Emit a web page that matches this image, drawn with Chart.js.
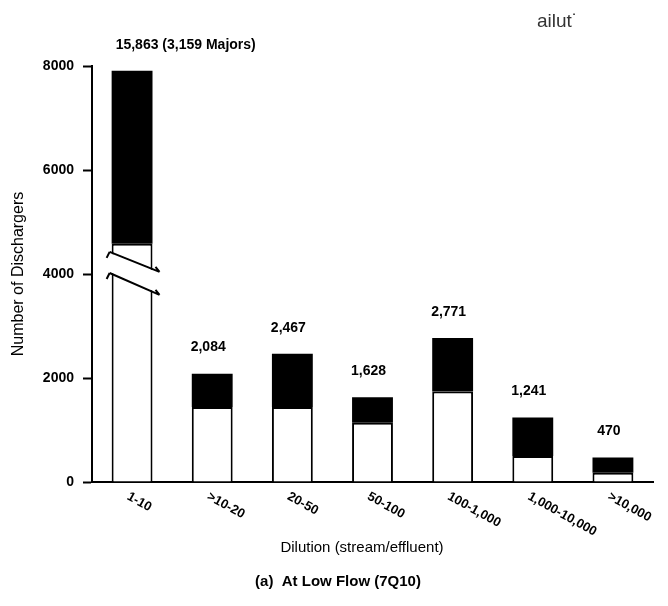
<!DOCTYPE html>
<html lang="en">
<head>
    <meta charset="UTF-8">
    <title>Dilution at Low Flow</title>
    <script src="https://cdn.jsdelivr.net/npm/chart.js"></script>
    <style>
        body { margin: 0; background: #fff; }
        #wrap { width: 668px; height: 606px; position: relative; }
    </style>
</head>
<body>
    <div id="wrap">
        <canvas id="grafico"></canvas>
    </div>
    <script>
        // data
        const categorias = ['1-10', '>10-20', '20-50', '50-100', '100-1,000', '1,000-10,000', '>10,000']
        const totais = ['15,863 (3,159 Majors)', '2,084', '2,467', '1,628', '2,771', '1,241', '470']
        // white (lower) and black (upper) parts as drawn; first bar is drawn on a broken axis
        const parteBranca = [4580, 1440, 1440, 1140, 1740, 500, 180]
        const partePreta = [3330, 644, 1027, 488, 1031, 741, 290]
        const ticksY = [0, 2000, 4000, 6000, 8000]
        const quebraEm = 4000

        const fonte = '"Liberation Sans", Arial, sans-serif'

        const desenhos = {
            id: 'desenhos',
            afterDatasetsDraw(chart) {
                const ctx = chart.ctx
                const x = chart.scales.x
                const y = chart.scales.y
                const area = chart.chartArea
                const barra = chart.getDatasetMeta(0).data[0]
                const meia = barra.width / 2
                const esq = barra.x - meia - 2
                const dir = barra.x + meia + 7

                // axis break on first bar
                const a1 = y.getPixelForValue(quebraEm + 425), a2 = y.getPixelForValue(quebraEm + 40)
                const b1 = y.getPixelForValue(quebraEm + 20), b2 = y.getPixelForValue(quebraEm - 400)
                ctx.save()
                ctx.fillStyle = '#fff'
                ctx.beginPath()
                ctx.moveTo(esq, a1 + 1)
                ctx.lineTo(dir, a2 + 1)
                ctx.lineTo(dir, b2 - 1)
                ctx.lineTo(esq, b1 - 1)
                ctx.closePath()
                ctx.fill()
                ctx.strokeStyle = '#000'
                ctx.lineWidth = 2
                ctx.beginPath()
                ctx.moveTo(esq, a1); ctx.lineTo(dir, a2)
                ctx.moveTo(esq, b1); ctx.lineTo(dir, b2)
                // small hooks at the ends
                ctx.moveTo(esq, a1); ctx.lineTo(esq - 3, a1 + 6)
                ctx.moveTo(esq, b1); ctx.lineTo(esq - 3, b1 + 6)
                ctx.moveTo(dir, a2); ctx.lineTo(dir - 4, a2 - 5)
                ctx.moveTo(dir, b2); ctx.lineTo(dir - 4, b2 - 5)
                ctx.stroke()

                // totals above bars
                ctx.fillStyle = '#000'
                ctx.textBaseline = 'middle'
                const meta = chart.getDatasetMeta(1)
                totais.forEach((t, i) => {
                    const el = meta.data[i]
                    if (i === 0) {
                        ctx.font = 'bold 14px ' + fonte
                        ctx.textAlign = 'left'
                        ctx.fillText(t, el.x - meia + 4, area.top - 21)
                    } else {
                        ctx.font = 'bold 14px ' + fonte
                        ctx.textAlign = 'center'
                        ctx.fillText(t, el.x - 4, el.y - 26)
                    }
                })

                // slanted category labels
                ctx.font = 'bold 13px ' + fonte
                ctx.textAlign = 'left'
                ctx.textBaseline = 'top'
                categorias.forEach((c, i) => {
                    const px = x.getPixelForValue(i)
                    ctx.save()
                    ctx.translate(px - 1, area.bottom + 8)
                    ctx.rotate(29 * Math.PI / 180)
                    ctx.fillText(c, 0, 0)
                    ctx.restore()
                })

                // axis title and caption
                ctx.textAlign = 'center'
                ctx.textBaseline = 'middle'
                ctx.font = '15px ' + fonte
                ctx.fillText('Dilution (stream/effluent)', 362, area.bottom + 66)
                ctx.font = 'bold 15px ' + fonte
                ctx.fillText('(a)  At Low Flow (7Q10)', 338, area.bottom + 100)

                // faint scan text in the corner
                ctx.font = '19px ' + fonte
                ctx.fillStyle = '#333'
                ctx.textAlign = 'left'
                ctx.fillText('ailut\u02D9', 537, 22)
                ctx.restore()
            }
        }

        const grafico = new Chart(document.getElementById('grafico'), {
            type: 'bar',
            data: {
                labels: categorias,
                datasets: [{
                    data: parteBranca,
                    backgroundColor: '#fff',
                    borderColor: '#000',
                    borderWidth: { left: 2, right: 2, top: 2, bottom: 0 },
                    borderSkipped: false
                }, {
                    data: partePreta,
                    backgroundColor: '#000',
                    borderColor: '#000',
                    borderWidth: 0
                }]
            },
            options: {
                responsive: true,
                maintainAspectRatio: false,
                animation: false,
                events: [],
                layout: { padding: { top: 66, right: 15, bottom: 116, left: 0 } },
                plugins: {
                    legend: { display: false },
                    tooltip: { enabled: false }
                },
                datasets: {
                    bar: { categoryPercentage: 1, barPercentage: 0.51 }
                },
                scales: {
                    x: {
                        stacked: true,
                        grid: { display: false },
                        border: { display: true, color: '#000', width: 2 },
                        ticks: { display: false }
                    },
                    y: {
                        stacked: true,
                        min: 0,
                        max: 8000,
                        afterBuildTicks(scale) {
                            scale.ticks = ticksY.map(v => ({ value: v }))
                        },
                        afterFit(scale) { scale.width = 92 },
                        grid: { drawOnChartArea: false, drawTicks: true, tickLength: 9, tickColor: '#000', tickWidth: 2 },
                        border: { display: true, color: '#000', width: 2 },
                        ticks: {
                            color: '#000',
                            padding: 9,
                            font: { family: fonte, size: 14, weight: 'bold' },
                            callback: v => String(v)
                        },
                        title: {
                            display: true,
                            text: 'Number of Dischargers',
                            color: '#000',
                            font: { family: fonte, size: 16 },
                            padding: { top: 9, bottom: 0 }
                        }
                    }
                }
            },
            plugins: [desenhos]
        })
    </script>
</body>
</html>
